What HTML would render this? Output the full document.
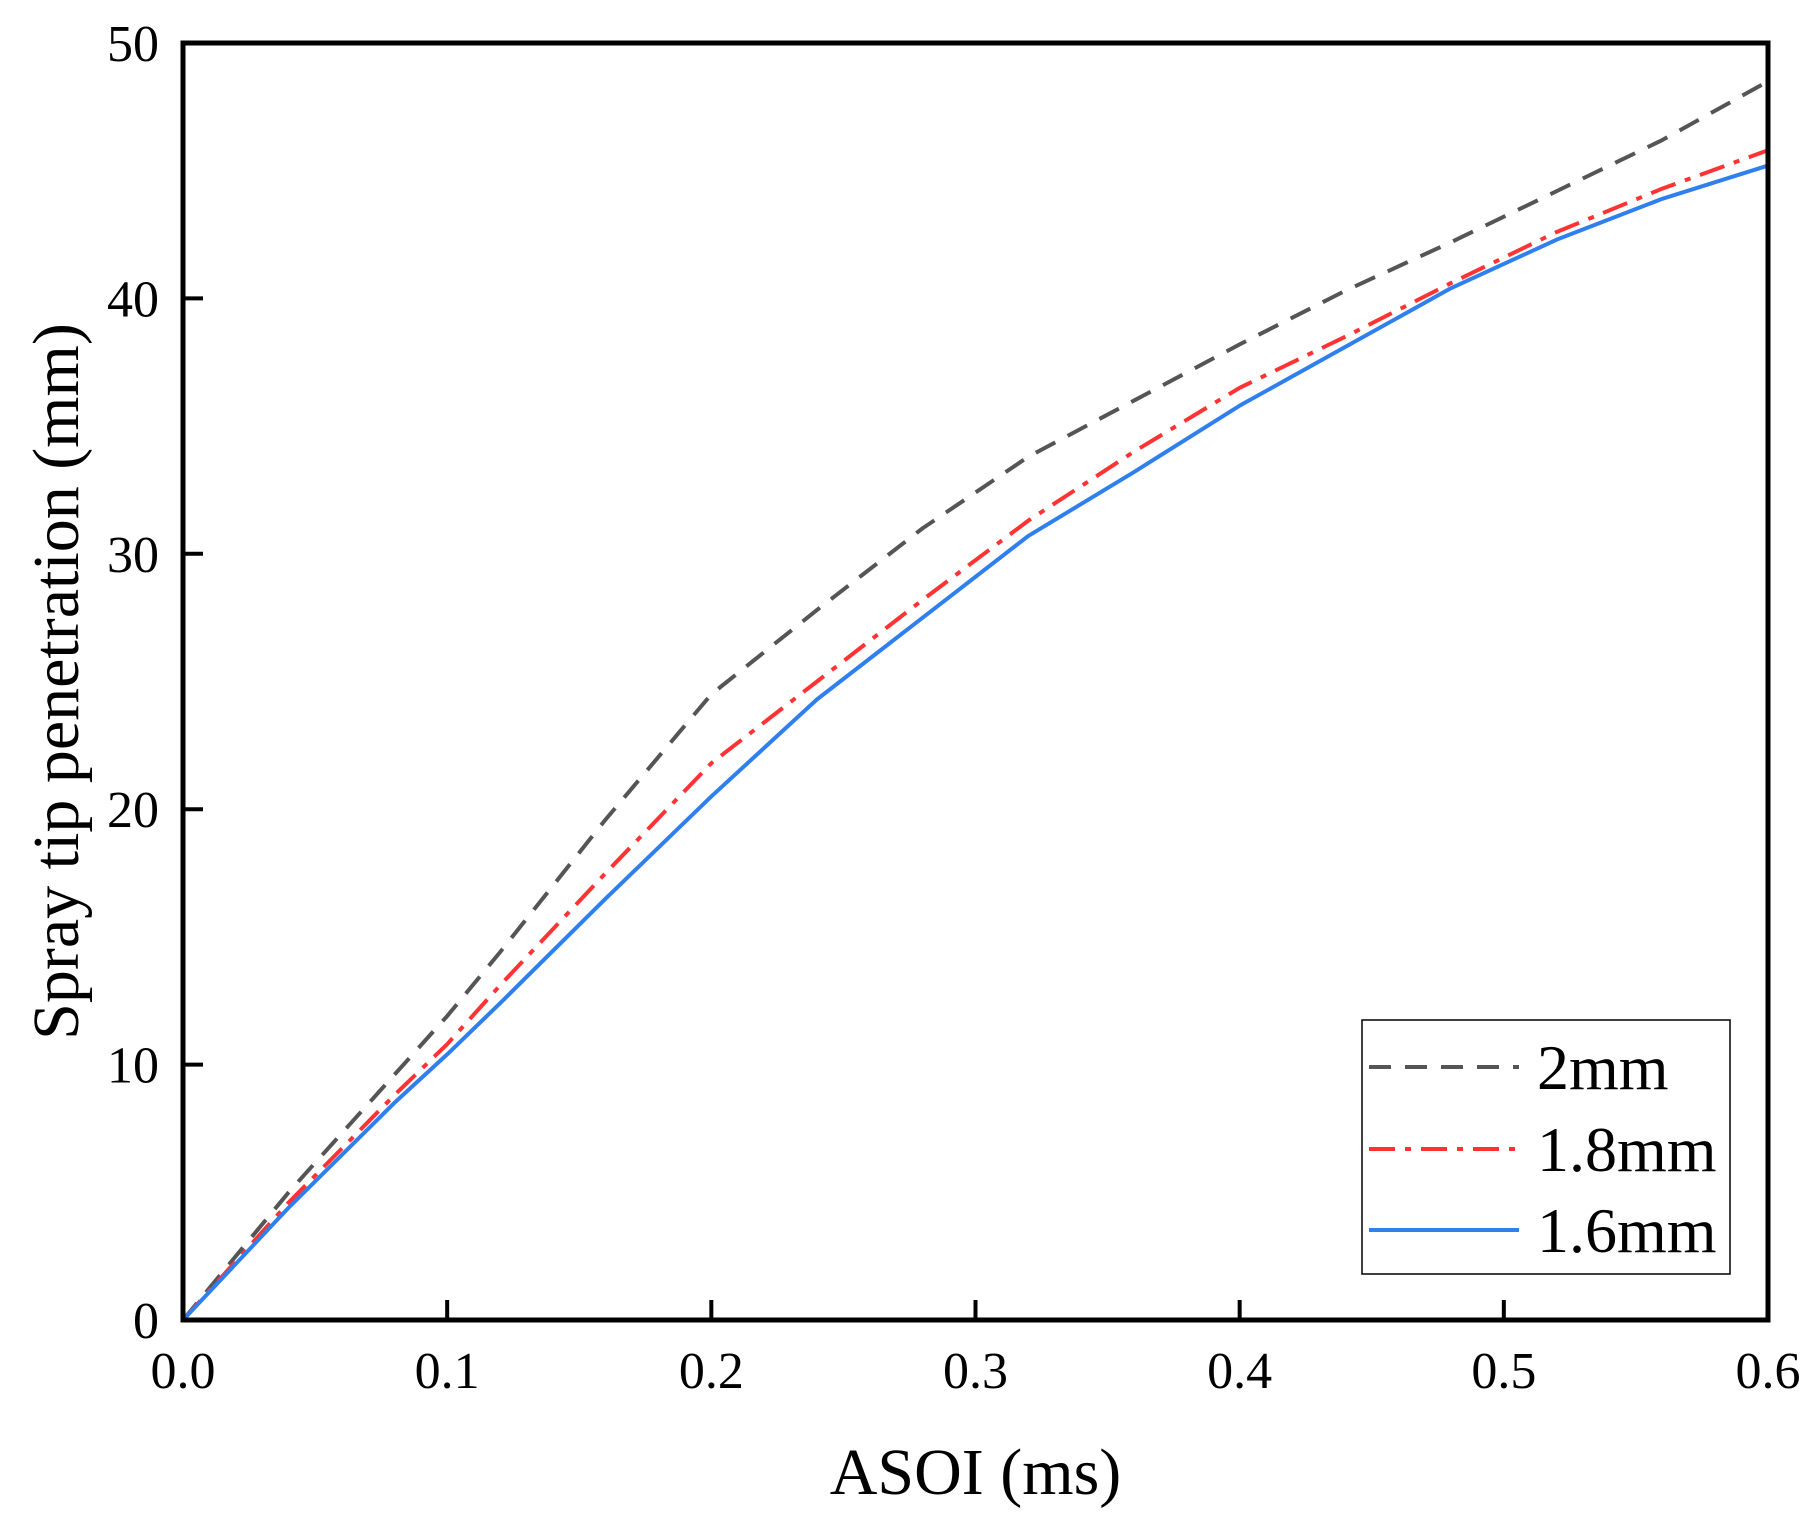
<!DOCTYPE html>
<html><head><meta charset="utf-8"><style>
body{margin:0;background:#fff}
svg text{font-family:"Liberation Serif",serif;fill:#000}
</style></head><body>
<svg id="chart" width="1814" height="1531" xmlns="http://www.w3.org/2000/svg"></svg>
<script>
const xs=[0,0.02,0.04,0.08,0.1,0.12,0.16,0.2,0.24,0.28,0.32,0.36,0.4,0.44,0.48,0.52,0.56,0.6];
const s2=[0,2.5,5,9.6,11.9,14.4,19.6,24.5,27.8,31,33.8,36,38.2,40.3,42.2,44.2,46.2,48.5];
const s18=[0,2.3,4.6,8.8,10.8,13.1,17.5,21.8,25,28.2,31.3,34,36.5,38.5,40.6,42.6,44.3,45.8];
const s16=[0,2.2,4.4,8.5,10.4,12.4,16.5,20.5,24.3,27.5,30.7,33.2,35.8,38.1,40.4,42.3,43.9,45.2];
const xTicks=[0,0.1,0.2,0.3,0.4,0.5,0.6];
const xTickLabels=["0.0","0.1","0.2","0.3","0.4","0.5","0.6"];
const yTicks=[0,10,20,30,40,50];
const names=["2mm","1.8mm","1.6mm"];
const L=183,R=1768,T=43,B=1320;
const X=v=>L+(v/0.6)*(R-L), Y=v=>B-(v/50)*(B-T);
const svg=document.getElementById('chart');const NS="http://www.w3.org/2000/svg";
function mk(t,a,p){const e=document.createElementNS(NS,t);for(const k in a)e.setAttribute(k,a[k]);(p||svg).appendChild(e);return e;}
const series=[[s2,"#555","22,14"],[s18,"#ff3333","26,10,6,10"],[s16,"#2f80ed",""]];
series.forEach((s,i)=>{const p=mk('polyline',{points:xs.map((x,j)=>X(x)+','+Y(s[0][j])).join(' '),fill:'none',stroke:s[1],'stroke-width':4,'stroke-dasharray':s[2],'stroke-linejoin':'round'});

});
const fr=mk('rect',{x:L,y:T,width:R-L,height:B-T,fill:'none',stroke:'#000','stroke-width':5});


xTicks.forEach((v,i)=>{mk('line',{x1:X(v),x2:X(v),y1:B,y2:B-20,stroke:'#000','stroke-width':4});
const t=mk('text',{x:X(v),y:B+68,'font-size':52,'text-anchor':'middle'});t.textContent=xTickLabels[i];

});
yTicks.forEach(v=>{mk('line',{x1:L,x2:L+20,y1:Y(v),y2:Y(v),stroke:'#000','stroke-width':4});
const t=mk('text',{x:L-24,y:Y(v)+18,'font-size':52,'text-anchor':'end'});t.textContent=v;

});
const xt=mk('text',{x:(L+R)/2,y:1494,'font-size':66,'text-anchor':'middle'});xt.textContent="ASOI (ms)";


const yt=mk('text',{x:0,y:0,'font-size':66,'text-anchor':'middle',transform:'translate(78,'+((T+B)/2)+') rotate(-90)'});yt.textContent="Spray tip penetration (mm)";


const lg=mk('rect',{x:1362,y:1020,width:368,height:254,fill:'#fff',stroke:'#000','stroke-width':1.5});


[1067,1149,1230].forEach((y,i)=>{mk('line',{x1:1369,x2:1519,y1:y,y2:y,stroke:series[i][1],'stroke-width':4,'stroke-dasharray':series[i][2]});
const t=mk('text',{x:1537,y:y+22,'font-size':64});t.textContent=names[i];

});
</script>
</body></html>
